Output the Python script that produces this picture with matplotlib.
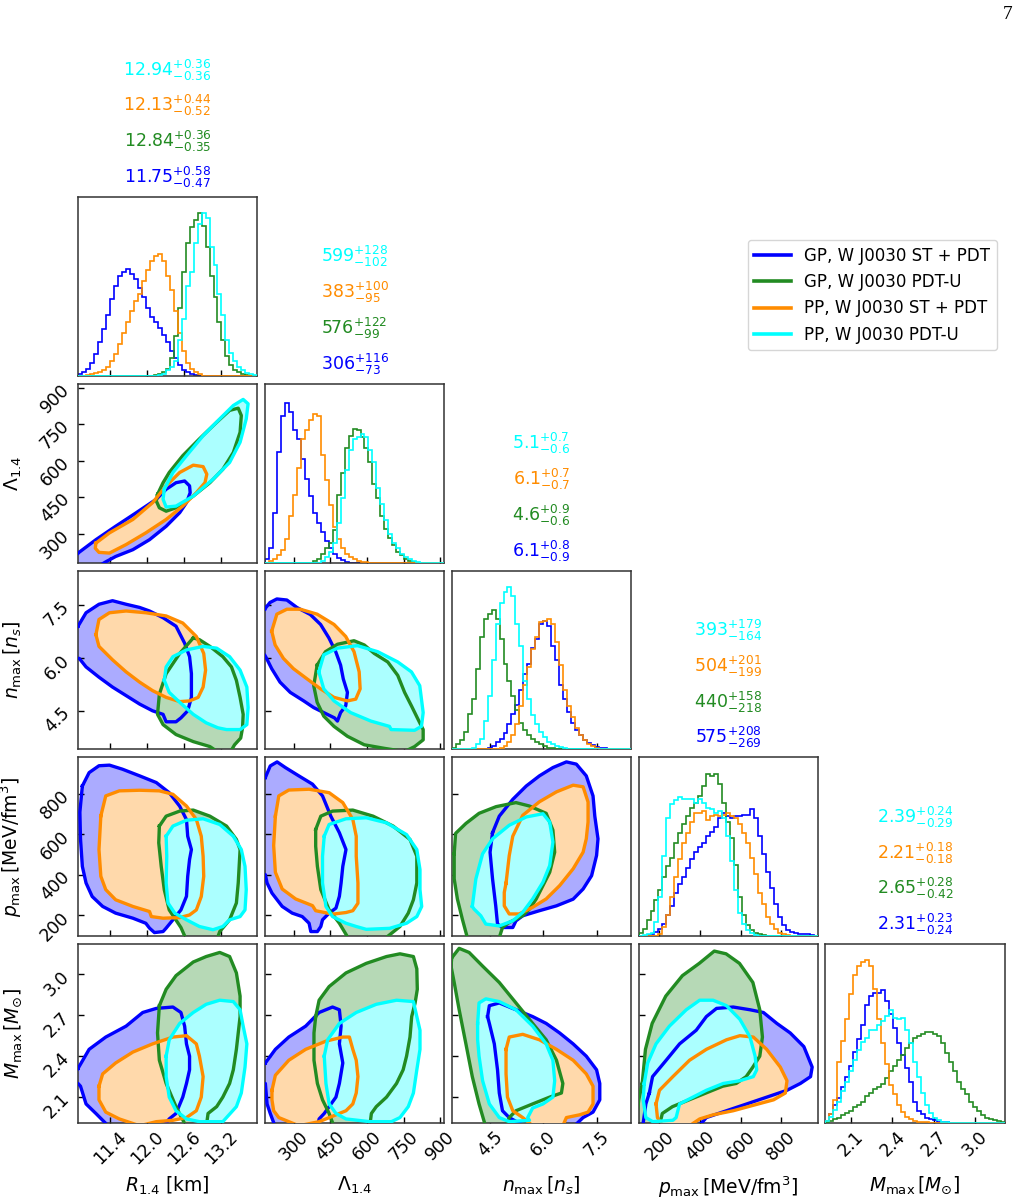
import numpy as np
import matplotlib
matplotlib.use("Agg")
import matplotlib.pyplot as plt
from matplotlib.colors import to_rgb
from matplotlib.lines import Line2D

# parameters of the corner plot
params = ["r14", "lam14", "nmax", "pmax", "mmax"]
labels = [r"$R_{1.4}$ [km]", r"$\Lambda_{1.4}$", r"$n_{\rm max}\,[n_s]$",
          r"$p_{\rm max}\,[{\rm MeV/fm^3}]$", r"$M_{\rm max}\,[M_{\odot}]$"]
limits = [(10.88, 13.79), (182, 916), (3.42, 8.47), (97, 980), (1.91, 3.22)]
ticks = [[11.4, 12.0, 12.6, 13.2], [300, 450, 600, 750, 900], [4.5, 6.0, 7.5],
         [200, 400, 600, 800], [2.1, 2.4, 2.7, 3.0]]
nbins = 45

# runs (drawing order = legend order)
runs = ["gp_st", "gp_u", "pp_st", "pp_u"]
run_names = ["GP, W J0030 ST + PDT", "GP, W J0030 PDT-U",
             "PP, W J0030 ST + PDT", "PP, W J0030 PDT-U"]
run_colors = ["blue", "forestgreen", "darkorange", "cyan"]

# median, +err, -err for each parameter (as printed)
stats_gp_st = [("11.75", "0.58", "0.47"), ("306", "116", "73"), ("6.1", "0.8", "0.9"),
               ("575", "208", "269"), ("2.31", "0.23", "0.24")]
stats_gp_u = [("12.84", "0.36", "0.35"), ("576", "122", "99"), ("4.6", "0.9", "0.6"),
              ("440", "158", "218"), ("2.65", "0.28", "0.42")]
stats_pp_st = [("12.13", "0.44", "0.52"), ("383", "100", "95"), ("6.1", "0.7", "0.7"),
               ("504", "201", "199"), ("2.21", "0.18", "0.18")]
stats_pp_u = [("12.94", "0.36", "0.36"), ("599", "128", "102"), ("5.1", "0.7", "0.6"),
              ("393", "179", "164"), ("2.39", "0.24", "0.29")]

# 1D histograms: (first bin, bin heights) on 45 bins spanning each axis
hist_gp_st = {
    "r14": (0, [0.01, 0.02, 0.04, 0.07, 0.12, 0.19, 0.26, 0.34, 0.43, 0.50, 0.56, 0.58, 0.60, 0.57,
                0.54, 0.49, 0.44, 0.38, 0.33, 0.30, 0.27, 0.23, 0.19, 0.14, 0.10, 0.06, 0.03, 0.02,
                0.01, 0.005]),
    "lam14": (0, [0.02, 0.08, 0.28, 0.62, 0.82, 0.89, 0.84, 0.74, 0.69, 0.58, 0.47, 0.37, 0.28,
                  0.22, 0.17, 0.12, 0.08, 0.05, 0.025, 0.012, 0.005]),
    "nmax": (8, [0.005, 0.01, 0.02, 0.04, 0.06, 0.09, 0.14, 0.20, 0.25, 0.33, 0.42, 0.48, 0.57,
                 0.62, 0.70, 0.72, 0.69, 0.58, 0.50, 0.36, 0.28, 0.21, 0.15, 0.11, 0.08, 0.05,
                 0.035, 0.025, 0.015, 0.01, 0.008, 0.005, 0.003]),
    "pmax": (2, [0.005, 0.01, 0.025, 0.04, 0.07, 0.12, 0.17, 0.24, 0.29, 0.33, 0.38, 0.43, 0.47,
                 0.50, 0.52, 0.56, 0.585, 0.61, 0.66, 0.69, 0.67, 0.66, 0.67, 0.675, 0.68, 0.68,
                 0.71, 0.66, 0.56, 0.46, 0.36, 0.27, 0.18, 0.11, 0.065, 0.035, 0.025, 0.02,
                 0.015, 0.012, 0.01, 0.006, 0.004]),
    "mmax": (0, [0.01, 0.05, 0.10, 0.14, 0.20, 0.26, 0.32, 0.40, 0.47, 0.55, 0.66, 0.71, 0.73,
                 0.73, 0.745, 0.68, 0.61, 0.53, 0.45, 0.38, 0.31, 0.23, 0.12, 0.07, 0.05, 0.03,
                 0.02, 0.015, 0.008, 0.005, 0.003]),
}
hist_gp_u = {
    "r14": (19, [0.005, 0.01, 0.02, 0.04, 0.10, 0.22, 0.38, 0.58, 0.74, 0.83, 0.87, 0.91, 0.84,
                 0.72, 0.56, 0.44, 0.30, 0.20, 0.11, 0.06, 0.03, 0.02, 0.01, 0.005]),
    "lam14": (12, [0.01, 0.02, 0.05, 0.08, 0.11, 0.18, 0.38, 0.50, 0.64, 0.71, 0.745, 0.74, 0.70,
                   0.64, 0.56, 0.44, 0.36, 0.26, 0.19, 0.14, 0.10, 0.06, 0.04, 0.02, 0.01, 0.005]),
    "nmax": (0, [0.01, 0.03, 0.05, 0.10, 0.20, 0.28, 0.45, 0.63, 0.73, 0.76, 0.78, 0.73, 0.62,
                 0.48, 0.38, 0.30, 0.22, 0.15, 0.11, 0.08, 0.06, 0.04, 0.03, 0.02, 0.01, 0.007,
                 0.005, 0.003]),
    "pmax": (0, [0.02, 0.04, 0.09, 0.14, 0.20, 0.26, 0.33, 0.39, 0.44, 0.52, 0.58, 0.63, 0.67,
                 0.72, 0.745, 0.785, 0.84, 0.905, 0.895, 0.91, 0.85, 0.745, 0.64, 0.55, 0.40,
                 0.22, 0.12, 0.06, 0.035, 0.02, 0.012, 0.008, 0.004]),
    "mmax": (0, [0.005, 0.01, 0.02, 0.03, 0.045, 0.055, 0.07, 0.09, 0.10, 0.12, 0.15, 0.17, 0.19,
                 0.20, 0.22, 0.25, 0.29, 0.32, 0.35, 0.38, 0.42, 0.45, 0.475, 0.485, 0.50, 0.51,
                 0.51, 0.50, 0.485, 0.445, 0.39, 0.34, 0.29, 0.23, 0.19, 0.16, 0.12, 0.09, 0.07,
                 0.045, 0.03, 0.02, 0.015, 0.01, 0.006]),
}
hist_pp_st = {
    "r14": (2, [0.005, 0.01, 0.015, 0.02, 0.03, 0.05, 0.08, 0.12, 0.18, 0.24, 0.30, 0.36, 0.42,
                0.46, 0.53, 0.59, 0.64, 0.67, 0.68, 0.64, 0.56, 0.48, 0.36, 0.24, 0.14, 0.07, 0.04,
                0.02, 0.01]),
    "lam14": (1, [0.01, 0.02, 0.04, 0.07, 0.13, 0.26, 0.38, 0.53, 0.69, 0.74, 0.80, 0.83, 0.82,
                  0.60, 0.46, 0.32, 0.20, 0.13, 0.08, 0.05, 0.03, 0.02, 0.01, 0.005, 0.003]),
    "nmax": (11, [0.005, 0.01, 0.02, 0.04, 0.08, 0.14, 0.24, 0.36, 0.46, 0.56, 0.63, 0.71, 0.72,
                  0.73, 0.70, 0.60, 0.47, 0.33, 0.24, 0.18, 0.12, 0.08, 0.05, 0.03, 0.02, 0.01,
                  0.005]),
    "pmax": (5, [0.01, 0.05, 0.12, 0.22, 0.33, 0.43, 0.52, 0.58, 0.64, 0.69, 0.69, 0.70, 0.65,
                 0.67, 0.68, 0.67, 0.68, 0.69, 0.67, 0.66, 0.63, 0.58, 0.52, 0.44, 0.35, 0.24,
                 0.18, 0.11, 0.07, 0.04, 0.02, 0.012, 0.006, 0.003]),
    "mmax": (0, [0.01, 0.05, 0.13, 0.34, 0.46, 0.58, 0.72, 0.83, 0.88, 0.90, 0.91, 0.88, 0.75,
                 0.58, 0.45, 0.33, 0.21, 0.16, 0.10, 0.06, 0.035, 0.02, 0.012, 0.008, 0.005,
                 0.003]),
}
hist_pp_u = {
    "r14": (20, [0.005, 0.01, 0.03, 0.05, 0.08, 0.20, 0.32, 0.50, 0.58, 0.74, 0.85, 0.91, 0.88,
                 0.72, 0.62, 0.46, 0.34, 0.20, 0.13, 0.08, 0.05, 0.03, 0.015, 0.01, 0.005]),
    "lam14": (14, [0.01, 0.03, 0.06, 0.11, 0.22, 0.36, 0.52, 0.63, 0.69, 0.70, 0.72, 0.70, 0.63,
                   0.56, 0.42, 0.33, 0.24, 0.16, 0.11, 0.08, 0.05, 0.03, 0.02, 0.01, 0.005]),
    "nmax": (5, [0.01, 0.03, 0.06, 0.16, 0.30, 0.50, 0.70, 0.82, 0.88, 0.91, 0.86, 0.70, 0.58,
                 0.38, 0.28, 0.19, 0.14, 0.10, 0.07, 0.04, 0.03, 0.02, 0.015, 0.01, 0.005]),
    "pmax": (1, [0.005, 0.01, 0.02, 0.08, 0.22, 0.45, 0.66, 0.74, 0.76, 0.78, 0.77, 0.765, 0.765,
                 0.745, 0.765, 0.745, 0.72, 0.71, 0.69, 0.70, 0.66, 0.56, 0.42, 0.26, 0.13, 0.07,
                 0.035, 0.02, 0.008, 0.003]),
    "mmax": (0, [0.01, 0.035, 0.075, 0.12, 0.18, 0.23, 0.29, 0.35, 0.41, 0.455, 0.475, 0.52,
                 0.52, 0.55, 0.57, 0.60, 0.63, 0.59, 0.58, 0.59, 0.52, 0.45, 0.34, 0.26, 0.17,
                 0.10, 0.055, 0.03, 0.015, 0.007, 0.003]),
}

# 2D credible-region outlines, (x, y) in data units, keyed by (x param, y param)
cont_gp_st = {
    ("r14", "lam14"): [(10.88, 221), (11.17, 276), (11.49, 331), (11.82, 386), (12.15, 442), (12.31, 483),
                       (12.47, 510), (12.61, 517), (12.69, 497), (12.70, 469), (12.64, 428), (12.53, 387),
                       (12.31, 331), (12.04, 276), (11.77, 235), (11.49, 207), (11.33, 185), (11.10, 150),
                       (10.75, 170), (10.75, 240)],
    ("r14", "nmax"): [(10.88, 6.90), (11.01, 7.28), (11.22, 7.52), (11.44, 7.62), (11.66, 7.52), (11.88, 7.43),
                      (12.04, 7.33), (12.26, 7.14), (12.47, 6.90), (12.61, 6.42), (12.69, 6.04), (12.72, 5.56),
                      (12.72, 4.89), (12.66, 4.51), (12.55, 4.31), (12.47, 4.20), (12.31, 4.20), (12.26, 4.41),
                      (12.09, 4.51), (11.88, 4.70), (11.66, 4.94), (11.44, 5.18), (11.22, 5.46), (11.01, 5.75),
                      (10.90, 5.99), (10.70, 6.00), (10.70, 6.90)],
    ("lam14", "nmax"): [(181, 7.38), (203, 7.57), (231, 7.67), (272, 7.64), (313, 7.43), (368, 7.23), (410, 6.95),
                        (444, 6.57), (472, 6.18), (492, 5.80), (503, 5.41), (520, 5.03), (513, 4.65), (492, 4.46),
                        (479, 4.22), (467, 4.31), (423, 4.46), (382, 4.60), (341, 4.79), (286, 5.03), (244, 5.32),
                        (210, 5.70), (189, 5.99), (181, 6.09), (150, 6.09), (150, 7.38)],
    ("r14", "pmax"): [(10.95, 839), (11.06, 905), (11.22, 939), (11.39, 942), (11.60, 922), (11.88, 889),
                      (12.15, 856), (12.36, 806), (12.53, 739), (12.64, 673), (12.66, 591), (12.72, 525),
                      (12.69, 476), (12.66, 393), (12.64, 294), (12.55, 227), (12.42, 178), (12.31, 137),
                      (12.26, 120), (12.12, 115), (12.04, 137), (11.98, 161), (11.77, 186), (11.49, 211),
                      (11.28, 244), (11.11, 293), (11.01, 360), (10.95, 442), (10.92, 578), (10.91, 710)],
    ("lam14", "pmax"): [(184, 881), (204, 938), (232, 958), (266, 930), (321, 889), (377, 848), (418, 790),
                        (452, 690), (487, 608), (514, 525), (501, 442), (494, 360), (487, 294), (473, 236),
                        (445, 211), (418, 178), (411, 145), (397, 120), (370, 120), (363, 161), (335, 194),
                        (294, 211), (253, 244), (211, 310), (191, 360), (184, 401), (150, 401), (150, 881)],
    ("nmax", "pmax"): [(4.57, 608), (4.76, 690), (5.14, 773), (5.52, 839), (5.89, 889), (6.27, 930), (6.65, 958),
                       (6.93, 947), (7.21, 889), (7.40, 790), (7.45, 690), (7.54, 578), (7.50, 496), (7.36, 396),
                       (7.12, 330), (6.84, 280), (6.37, 247), (5.89, 223), (5.42, 198), (5.23, 173), (5.14, 140),
                       (4.85, 140), (4.71, 157), (4.66, 247), (4.57, 380), (4.50, 512)],
    ("r14", "mmax"): [(10.88, 2.31), (11.06, 2.45), (11.33, 2.54), (11.66, 2.62), (11.93, 2.72), (12.15, 2.75),
                      (12.42, 2.76), (12.55, 2.72), (12.61, 2.62), (12.64, 2.49), (12.69, 2.40), (12.69, 2.30),
                      (12.64, 2.20), (12.58, 2.10), (12.47, 1.98), (12.36, 1.94), (12.26, 1.88), (11.39, 1.88),
                      (11.17, 1.98), (11.01, 2.05), (10.92, 2.18), (10.88, 2.20), (10.70, 2.20), (10.70, 2.31)],
    ("lam14", "mmax"): [(184, 2.35), (225, 2.45), (280, 2.54), (349, 2.62), (404, 2.72), (459, 2.76), (487, 2.74),
                        (494, 2.62), (487, 2.49), (501, 2.35), (487, 2.20), (473, 2.10), (445, 2.03), (425, 1.98),
                        (404, 1.94), (397, 1.88), (225, 1.88), (204, 1.98), (191, 2.05), (184, 2.20), (150, 2.20),
                        (150, 2.35)],
    ("nmax", "mmax"): [(4.43, 2.69), (4.48, 2.77), (4.76, 2.79), (5.23, 2.74), (5.70, 2.69), (6.08, 2.64),
                       (6.46, 2.57), (6.84, 2.49), (7.21, 2.40), (7.50, 2.30), (7.59, 2.20), (7.59, 2.08),
                       (7.40, 1.99), (7.12, 1.95), (6.84, 1.88), (5.52, 1.88), (5.04, 1.95), (4.85, 2.00),
                       (4.76, 2.13), (4.71, 2.30), (4.62, 2.49), (4.48, 2.64)],
    ("pmax", "mmax"): [(150, 2.13), (166, 2.25), (233, 2.37), (299, 2.49), (381, 2.59), (431, 2.69), (481, 2.75),
                       (563, 2.76), (646, 2.74), (712, 2.72), (778, 2.64), (844, 2.57), (911, 2.47), (952, 2.32),
                       (944, 2.25), (894, 2.20), (828, 2.15), (729, 2.10), (630, 2.05), (530, 2.00), (431, 1.95),
                       (390, 1.88), (117, 1.88), (133, 2.05)],
}
cont_gp_u = {
    ("r14", "lam14"): [(12.17, 462), (12.26, 510), (12.36, 552), (12.58, 621), (12.85, 690), (13.13, 758),
                       (13.34, 807), (13.48, 816), (13.53, 786), (13.51, 717), (13.40, 634), (13.23, 565),
                       (13.02, 510), (12.75, 455), (12.47, 407), (12.31, 393), (12.20, 407), (12.15, 435)],
    ("r14", "nmax"): [(12.75, 6.57), (12.53, 6.13), (12.31, 5.56), (12.20, 4.98), (12.17, 4.41), (12.26, 4.12),
                      (12.47, 3.84), (12.75, 3.64), (13.02, 3.50), (13.18, 3.31), (13.34, 3.31), (13.42, 3.55),
                      (13.52, 3.74), (13.55, 4.03), (13.56, 4.41), (13.51, 4.89), (13.45, 5.37), (13.37, 5.75),
                      (13.23, 6.04), (13.02, 6.33), (12.85, 6.52)],
    ("lam14", "nmax"): [(396, 5.80), (430, 6.18), (479, 6.39), (547, 6.49), (589, 6.37), (630, 6.13), (685, 5.89),
                        (726, 5.51), (754, 5.03), (782, 4.65), (809, 4.27), (830, 3.98), (830, 3.69), (795, 3.50),
                        (754, 3.36), (671, 3.45), (589, 3.55), (520, 3.79), (465, 4.07), (423, 4.36), (396, 4.75),
                        (382, 5.22)],
    ("r14", "pmax"): [(12.20, 641), (12.31, 690), (12.53, 715), (12.75, 720), (13.02, 690), (13.29, 641),
                      (13.45, 575), (13.51, 525), (13.48, 360), (13.45, 261), (13.34, 178), (13.18, 120),
                      (13.13, 78), (12.64, 78), (12.55, 140), (12.36, 227), (12.28, 326), (12.23, 442),
                      (12.19, 558)],
    ("lam14", "pmax"): [(390, 624), (411, 690), (459, 715), (542, 720), (625, 690), (707, 641), (776, 575),
                        (804, 492), (804, 360), (790, 277), (769, 211), (735, 145), (666, 78), (528, 78),
                        (487, 161), (445, 227), (411, 327), (397, 442), (390, 541)],
    ("nmax", "pmax"): [(3.49, 505), (3.53, 605), (3.82, 654), (4.19, 704), (4.67, 737), (5.23, 757), (5.61, 740),
                       (6.08, 704), (6.27, 621), (6.32, 512), (6.18, 413), (5.99, 347), (5.80, 281), (5.61, 231),
                       (5.42, 198), (5.04, 165), (4.85, 140), (4.76, 90), (3.86, 90), (3.72, 181), (3.58, 281),
                       (3.49, 380)],
    ("r14", "mmax"): [(12.20, 2.77), (12.31, 2.89), (12.47, 2.99), (12.75, 3.09), (12.96, 3.13), (13.18, 3.16),
                      (13.34, 3.13), (13.45, 3.01), (13.51, 2.84), (13.51, 2.69), (13.48, 2.57), (13.45, 2.45),
                      (13.40, 2.30), (13.34, 2.20), (13.23, 2.10), (13.13, 2.03), (12.99, 1.98), (12.96, 1.88),
                      (12.64, 1.88), (12.47, 2.03), (12.31, 2.20), (12.20, 2.37), (12.17, 2.57)],
    ("lam14", "mmax"): [(390, 2.69), (404, 2.81), (445, 2.91), (514, 3.01), (597, 3.08), (680, 3.13), (735, 3.15),
                        (790, 3.13), (804, 3.04), (806, 2.89), (797, 2.79), (783, 2.69), (776, 2.54), (762, 2.40),
                        (748, 2.30), (721, 2.20), (680, 2.10), (638, 2.03), (618, 1.98), (611, 1.88), (466, 1.88),
                        (445, 1.98), (418, 2.08), (397, 2.20), (383, 2.37), (383, 2.57)],
    ("nmax", "mmax"): [(3.42, 3.12), (3.63, 3.19), (3.91, 3.16), (4.29, 3.06), (4.76, 2.94), (5.23, 2.79),
                       (5.70, 2.64), (6.08, 2.52), (6.37, 2.37), (6.55, 2.20), (6.51, 2.13), (6.18, 2.10),
                       (5.70, 2.05), (5.23, 2.00), (5.04, 1.95), (4.95, 1.88), (4.38, 1.88), (4.19, 2.05),
                       (4.00, 2.25), (3.82, 2.49), (3.63, 2.74), (3.49, 2.94), (3.40, 3.06)],
    ("pmax", "mmax"): [(115, 2.20), (131, 2.45), (164, 2.64), (231, 2.84), (313, 2.99), (396, 3.08), (470, 3.17),
                       (528, 3.15), (594, 3.08), (660, 2.94), (694, 2.74), (707, 2.54), (694, 2.40), (660, 2.32),
                       (627, 2.25), (578, 2.20), (512, 2.18), (429, 2.13), (346, 2.08), (264, 2.03), (214, 1.98),
                       (198, 1.88), (82, 1.88), (98, 2.08)],
}
cont_pp_st = {
    ("r14", "lam14"): [(11.17, 262), (11.39, 304), (11.77, 359), (12.09, 428), (12.31, 497), (12.53, 552),
                       (12.75, 582), (12.91, 576), (12.97, 545), (12.94, 510), (12.80, 469), (12.58, 414),
                       (12.31, 359), (11.98, 304), (11.66, 256), (11.39, 221), (11.22, 224), (11.16, 241)],
    ("r14", "nmax"): [(11.17, 6.66), (11.22, 7.09), (11.39, 7.28), (11.66, 7.33), (11.98, 7.28), (12.31, 7.19),
                      (12.58, 6.99), (12.80, 6.61), (12.92, 6.13), (12.95, 5.66), (12.91, 5.18), (12.83, 4.89),
                      (12.69, 4.79), (12.53, 4.77), (12.31, 4.89), (12.09, 5.08), (11.88, 5.32), (11.66, 5.61),
                      (11.44, 5.95), (11.22, 6.33)],
    ("lam14", "nmax"): [(210, 6.76), (231, 7.24), (272, 7.38), (327, 7.38), (396, 7.24), (465, 6.95), (513, 6.61),
                        (547, 6.18), (568, 5.61), (572, 5.13), (554, 4.84), (520, 4.79), (465, 4.89), (410, 5.13),
                        (355, 5.41), (299, 5.70), (258, 5.99), (224, 6.37)],
    ("r14", "pmax"): [(11.25, 691), (11.33, 790), (11.55, 815), (11.88, 818), (12.20, 815), (12.42, 798),
                      (12.64, 740), (12.80, 674), (12.88, 591), (12.91, 492), (12.92, 393), (12.88, 293),
                      (12.80, 227), (12.69, 202), (12.53, 189), (12.26, 186), (12.07, 194), (12.04, 219),
                      (11.77, 244), (11.49, 277), (11.33, 327), (11.25, 393), (11.22, 525)],
    ("lam14", "pmax"): [(225, 690), (239, 790), (280, 819), (363, 823), (445, 806), (501, 757), (542, 674),
                        (556, 591), (556, 492), (563, 360), (563, 260), (542, 223), (514, 214), (459, 206),
                        (390, 223), (377, 248), (308, 281), (253, 330), (225, 413), (218, 545)],
    ("nmax", "pmax"): [(4.95, 359), (5.04, 495), (5.14, 591), (5.42, 694), (5.89, 761), (6.37, 810), (6.84, 843),
                       (7.12, 835), (7.26, 760), (7.26, 661), (7.21, 578), (7.12, 512), (6.84, 430), (6.46, 347),
                       (6.08, 281), (5.70, 240), (5.32, 207), (5.04, 207), (4.90, 247), (4.90, 313)],
    ("r14", "mmax"): [(11.22, 2.18), (11.28, 2.27), (11.49, 2.35), (11.77, 2.43), (12.09, 2.49), (12.42, 2.54),
                      (12.64, 2.55), (12.80, 2.49), (12.85, 2.40), (12.91, 2.25), (12.88, 2.10), (12.80, 2.00),
                      (12.64, 1.95), (12.42, 1.93), (12.15, 1.92), (11.88, 1.89), (11.55, 1.94), (11.33, 1.99),
                      (11.22, 2.08)],
    ("lam14", "mmax"): [(211, 2.15), (225, 2.26), (280, 2.37), (349, 2.45), (432, 2.51), (501, 2.54), (528, 2.54),
                        (542, 2.45), (556, 2.37), (563, 2.25), (556, 2.13), (542, 2.05), (514, 2.00), (473, 1.97),
                        (432, 1.94), (404, 1.92), (321, 1.89), (280, 1.92), (239, 1.95), (218, 2.00), (211, 2.08)],
    ("nmax", "mmax"): [(4.95, 2.45), (5.04, 2.54), (5.42, 2.56), (5.89, 2.52), (6.37, 2.45), (6.84, 2.37),
                       (7.21, 2.27), (7.40, 2.18), (7.40, 2.05), (7.26, 1.99), (7.02, 1.97), (6.65, 1.95),
                       (6.55, 1.89), (5.70, 1.89), (5.42, 1.95), (5.14, 2.00), (4.99, 2.10), (4.95, 2.27)],
    ("pmax", "mmax"): [(183, 2.05), (200, 2.15), (266, 2.25), (348, 2.37), (431, 2.45), (530, 2.52), (596, 2.55),
                       (662, 2.54), (728, 2.45), (795, 2.32), (828, 2.22), (820, 2.13), (762, 2.08), (662, 2.04),
                       (563, 2.00), (464, 1.97), (398, 1.94), (348, 1.89), (215, 1.89), (190, 1.95)],
}
cont_pp_u = {
    ("r14", "lam14"): [(12.28, 483), (12.42, 552), (12.64, 621), (12.91, 703), (13.18, 772), (13.40, 827),
                       (13.56, 852), (13.64, 834), (13.61, 772), (13.51, 676), (13.34, 593), (13.07, 524),
                       (12.75, 455), (12.47, 414), (12.31, 410), (12.26, 442)],
    ("r14", "nmax"): [(12.28, 5.37), (12.31, 5.75), (12.42, 6.04), (12.64, 6.23), (12.91, 6.33), (13.13, 6.28),
                      (13.34, 6.04), (13.51, 5.66), (13.62, 5.18), (13.64, 4.60), (13.62, 4.12), (13.51, 3.98),
                      (13.29, 3.98), (13.15, 4.03), (12.96, 4.17), (12.75, 4.41), (12.53, 4.75), (12.36, 5.03)],
    ("lam14", "nmax"): [(403, 5.61), (423, 6.09), (479, 6.28), (561, 6.35), (644, 6.18), (726, 5.89), (782, 5.61),
                        (816, 5.22), (823, 4.84), (830, 4.46), (823, 4.07), (795, 3.96), (699, 3.98), (692, 4.07),
                        (616, 4.22), (533, 4.46), (465, 4.79), (423, 5.13)],
    ("r14", "pmax"): [(12.31, 591), (12.42, 641), (12.64, 670), (12.91, 677), (13.18, 649), (13.40, 591),
                      (13.53, 525), (13.59, 442), (13.61, 327), (13.59, 227), (13.51, 194), (13.34, 178),
                      (13.23, 145), (13.07, 129), (12.85, 145), (12.64, 178), (12.45, 211), (12.34, 261),
                      (12.31, 360), (12.32, 492)],
    ("lam14", "pmax"): [(425, 591), (445, 649), (514, 677), (597, 682), (680, 657), (762, 599), (804, 525),
                        (817, 426), (817, 327), (824, 244), (804, 194), (762, 161), (693, 136), (597, 131),
                        (556, 145), (514, 161), (459, 194), (432, 244), (418, 360), (418, 492)],
    ("nmax", "pmax"): [(4.00, 244), (4.10, 380), (4.29, 504), (4.57, 578), (5.04, 645), (5.52, 686), (5.99, 702),
                       (6.18, 661), (6.27, 562), (6.18, 446), (5.99, 364), (5.70, 281), (5.42, 215), (5.14, 173),
                       (4.76, 148), (4.38, 157), (4.24, 198), (4.05, 231)],
    ("r14", "mmax"): [(12.31, 2.40), (12.36, 2.52), (12.53, 2.64), (12.75, 2.72), (12.96, 2.78), (13.18, 2.81),
                      (13.40, 2.80), (13.51, 2.74), (13.56, 2.62), (13.62, 2.49), (13.59, 2.32), (13.53, 2.13),
                      (13.45, 2.03), (13.29, 1.95), (13.23, 1.92), (12.85, 1.92), (12.64, 1.94), (12.47, 2.00),
                      (12.36, 2.10), (12.31, 2.25)],
    ("lam14", "mmax"): [(425, 2.40), (439, 2.52), (487, 2.64), (556, 2.72), (638, 2.78), (721, 2.81), (790, 2.80),
                        (804, 2.69), (817, 2.59), (817, 2.45), (804, 2.30), (790, 2.13), (769, 2.03), (735, 1.95),
                        (700, 1.92), (611, 1.92), (514, 1.94), (473, 1.98), (445, 2.05), (432, 2.20)],
    ("nmax", "mmax"): [(4.15, 2.64), (4.19, 2.79), (4.38, 2.82), (4.76, 2.80), (5.23, 2.74), (5.70, 2.62),
                       (6.08, 2.49), (6.27, 2.37), (6.32, 2.22), (6.27, 2.10), (5.99, 2.05), (5.70, 2.02),
                       (5.56, 1.95), (5.61, 1.93), (5.04, 1.92), (4.76, 1.95), (4.48, 2.05), (4.29, 2.22),
                       (4.19, 2.40), (4.15, 2.52)],
    ("pmax", "mmax"): [(125, 2.20), (142, 2.35), (183, 2.49), (249, 2.62), (332, 2.74), (398, 2.81), (464, 2.81),
                       (530, 2.77), (596, 2.67), (646, 2.54), (671, 2.40), (679, 2.30), (662, 2.25), (596, 2.22),
                       (514, 2.20), (431, 2.15), (365, 2.10), (299, 2.05), (282, 1.95), (266, 1.93), (167, 1.92),
                       (133, 1.95), (120, 2.08)],
}

hists = [hist_gp_st, hist_gp_u, hist_pp_st, hist_pp_u]
conts = [cont_gp_st, cont_gp_u, cont_pp_st, cont_pp_u]
stats = [stats_gp_st, stats_gp_u, stats_pp_st, stats_pp_u]


def light(c, a=0.33):
    # opaque version of colour c at alpha a on white
    r = np.array(to_rgb(c))
    return tuple(1 - a + a * r)


fig, axes = plt.subplots(5, 5, figsize=(10.2, 12.02), dpi=100)
fig.subplots_adjust(left=0.0765, right=0.985, bottom=0.0657, top=0.8361,
                    wspace=0.042, hspace=0.045)

n = len(params)
for i in range(n):
    for j in range(n):
        ax = axes[i, j]
        if j > i:
            ax.set_visible(False)
            continue
        for s in ax.spines.values():
            s.set_color("0.2")
            s.set_linewidth(1.1)
        ax.tick_params(direction="in", length=4, width=1, labelsize=12.5,
                       top=False, right=False)
        ax.set_xlim(*limits[j])
        ax.set_xticks(ticks[j])

        if i == j:
            # diagonal: step histograms + summary values
            lo, hi = limits[j]
            edges = np.linspace(lo, hi, nbins + 1)
            for k in range(len(runs)):
                start, vals = hists[k][params[j]]
                h = np.zeros(nbins)
                h[start:start + len(vals)] = vals
                ax.stairs(h, edges, color=run_colors[k], lw=1.2, zorder=2 + k)
                med, up, dn = stats[k][j]
                ax.text(0.5, 1.11 + 0.2 * k, rf"${med}^{{+{up}}}_{{-{dn}}}$",
                        color=run_colors[k], fontsize=12.5, ha="center", va="center",
                        transform=ax.transAxes)
            ax.set_ylim(0, 1)
            ax.set_yticks([])
        else:
            # off-diagonal: filled credible regions, outlines on top
            key = (params[j], params[i])
            for k in range(len(runs)):
                pts = conts[k][key]
                xs = [p[0] for p in pts]
                ys = [p[1] for p in pts]
                ax.fill(xs, ys, color=light(run_colors[k]), lw=0, zorder=1 + k)
                ax.plot(xs + xs[:1], ys + ys[:1], color=run_colors[k], lw=2.4,
                        solid_joinstyle="round", zorder=10 + k)
            ax.set_ylim(*limits[i])
            ax.set_yticks(ticks[i])

        if i == n - 1:
            ax.tick_params(axis="x", labelrotation=45)
            ax.set_xlabel(labels[j], fontsize=13.5)
            ax.xaxis.set_label_coords(0.5, -0.29)
        else:
            ax.tick_params(labelbottom=False)
        if j == 0 and i > 0:
            ax.tick_params(axis="y", labelrotation=45)
            ax.set_ylabel(labels[i], fontsize=13.5)
            ax.yaxis.set_label_coords(-0.30, 0.5)
        else:
            ax.tick_params(labelleft=False)

handles = [Line2D([], [], color=c, lw=2.6) for c in run_colors]
fig.legend(handles, run_names, loc="upper right", bbox_to_anchor=(0.9775, 0.8003),
           fontsize=12, borderaxespad=0, handlelength=2.2)

fig.text(0.993, 0.995, "7", family="Liberation Serif", fontsize=14, ha="right", va="top")

fig.savefig("out.png", dpi=100)
